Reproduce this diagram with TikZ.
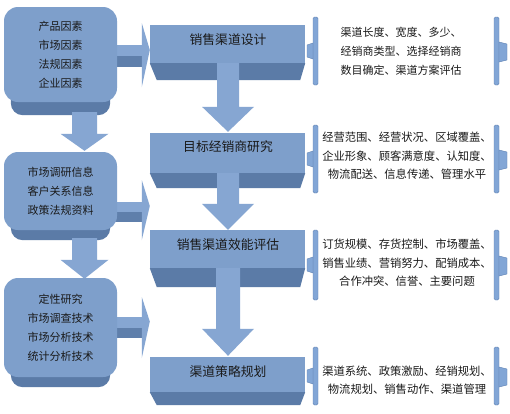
\documentclass[tikz,border=0pt]{standalone}
\usepackage{fontspec}
\newfontfamily\cjk{Noto Sans CJK SC}
\usetikzlibrary{calc}
\pgfdeclarelayer{bg}\pgfdeclarelayer{mid}\pgfsetlayers{bg,mid,main}
\definecolor{face}{HTML}{7E9FCB}
\definecolor{dark}{HTML}{5B7BA7}
\definecolor{arrlight}{HTML}{86A6D2}
\definecolor{arrdark}{HTML}{5F7FAB}
\definecolor{brk}{HTML}{82A6D6}
\definecolor{brkedge}{HTML}{6385B5}
\definecolor{txt}{HTML}{1A1A1A}
% block arrow pointing down: #1 start point, #2 tip point, #3 shaft half width, #4 head half width, #5 head length
\newcommand\blkdown[5]{%
  \fill[arrlight] let \p1=#1, \p2=#2 in
    (\x2-#3pt,\y1) -- (\x2+#3pt,\y1) -- (\x2+#3pt,\y2+#5pt) -- (\x2+#4pt,\y2+#5pt)
    -- (\x2,\y2) -- (\x2-#4pt,\y2+#5pt) -- (\x2-#3pt,\y2+#5pt) -- cycle;}
% block arrow pointing right: #1 from node, #2 to node, #3 shaft top, #4 shaft bottom, #5 head top, #6 head bottom
\newcommand\blkright[6]{%
  \fill[arrlight] let \p1=(#1.east), \p2=(#2.west) in
    (\x1-3pt,-#3pt) rectangle (\x2-8pt,{-(#3+#4)/2*1pt});
  \fill[arrdark] let \p1=(#1.east), \p2=(#2.west) in
    (\x1-3pt,{-(#3+#4)/2*1pt}) rectangle (\x2-8pt,-#4pt);
  \fill[arrlight] let \p2=(#2.west) in
    (\x2-8pt,-#5pt) -- (\x2,{-((#3+#4)/2-6)*1pt}) -- (\x2-8pt,-#6pt) -- cycle;}
% pair of brackets round a text: #1 top, #2 bottom
\newcommand\brkpair[2]{%
  \filldraw[brk,draw=brkedge,line width=0.4pt,rounded corners=1.5pt] (313,#1) rectangle (318,#2);
  \filldraw[brk,draw=brkedge,line width=0.4pt] (313,{(#1+#2)/2-8}) -- (307,{(#1+#2)/2-6})
     -- (307,{(#1+#2)/2+6}) -- (313,{(#1+#2)/2+8}) -- cycle;
  \filldraw[brk,draw=brkedge,line width=0.4pt,rounded corners=1.5pt] (494,#1) rectangle (499,#2);
  \filldraw[brk,draw=brkedge,line width=0.4pt] (499,{(#1+#2)/2-9}) -- (507,{(#1+#2)/2-7})
     -- (507,{(#1+#2)/2+9}) -- (499,{(#1+#2)/2+11}) -- cycle;}
\begin{document}
\begin{tikzpicture}[x=1pt,y=-1pt,
  lface/.style={fill=face, rounded corners=14pt, minimum width=113pt, inner sep=0pt,
    align=center, text=txt, font=\cjk\fontsize{11pt}{19pt}\selectfont},
  mface/.style={fill=face, minimum width=155pt, inner sep=0pt},
  mtext/.style={text=txt, inner sep=0pt, font=\cjk\fontsize{12.8pt}{15pt}\selectfont},
  rtext/.style={text=txt, inner sep=0pt, align=center, font=\cjk\fontsize{11.3pt}{18.5pt}\selectfont},
  rtextsmall/.style={text=txt, inner sep=0pt, align=left, font=\cjk\fontsize{11pt}{19pt}\selectfont}]
\begin{pgfonlayer}{bg}
\fill[white] (0,0) rectangle (510,413);
\end{pgfonlayer}
\useasboundingbox (0,0) rectangle (510,413);

% left boxes
\node[lface, minimum height=95pt] (L1) at (60.5,54.5) {产品因素\\市场因素\\法规因素\\企业因素};
\node[lface, minimum height=78pt] (L2) at (60.5,191) {市场调研信息\\客户关系信息\\政策法规资料};
\node[lface, minimum height=99pt] (L3) at (60.5,327.5) {定性研究\\市场调查技术\\市场分析技术\\统计分析技术};

% middle boxes
\node[mface, minimum height=38pt] (M1) at (227.5,44) {};
\node[mface, minimum height=40pt] (M2) at (227.5,153) {};
\node[mface, minimum height=38pt] (M3) at (227.5,249) {};
\node[mface, minimum height=35pt] (M4) at (227.5,374.5) {};
\node[mtext] (M1t) at (228,40) {销售渠道设计};
\node[mtext] (M2t) at (228,147) {目标经销商研究};
\node[mtext] (M3t) at (228,245) {销售渠道效能评估};
\node[mtext] (M4t) at (228,372) {渠道策略规划};

% right texts
\node[rtextsmall] (R1) at (401,51) {渠道长度、宽度、多少、\\经销商类型、选择经销商\\数目确定、渠道方案评估};
\node[rtext] (R2) at (407,156) {经营范围、经营状况、区域覆盖、\\企业形象、顾客满意度、认知度、\\物流配送、信息传递、管理水平};
\node[rtext] (R3) at (407,263) {订货规模、存货控制、市场覆盖、\\销售业绩、营销努力、配销成本、\\合作冲突、信誉、主要问题};
\node[rtext] (R4) at (407,380) {渠道系统、政策激励、经销规划、\\物流规划、销售动作、渠道管理};

\begin{pgfonlayer}{bg}
  % extrusions of the left boxes
  \fill[dark, rounded corners=12pt] ($(L1.south west)+(7,-80)$) rectangle ($(L1.south east)+(-7,13)$);
  \fill[dark, rounded corners=12pt] ($(L2.south west)+(7,-60)$) rectangle ($(L2.south east)+(-7,10)$);
  \fill[dark, rounded corners=12pt] ($(L3.south west)+(7,-80)$) rectangle ($(L3.south east)+(-7,10)$);
  % lower faces of the middle boxes
  \fill[dark] (M1.south west) -- (M1.south east) -- ++(-5,17) -- ($(M1.south west)+(7,17)$) -- cycle;
  \fill[dark] (M2.south west) -- (M2.south east) -- ++(-5,15) -- ($(M2.south west)+(7,15)$) -- cycle;
  \fill[dark] (M3.south west) -- (M3.south east) -- ++(-5,19) -- ($(M3.south west)+(7,19)$) -- cycle;
  \fill[dark] (M4.south west) -- (M4.south east) -- ++(-5,13) -- ($(M4.south west)+(7,13)$) -- cycle;
\end{pgfonlayer}

\begin{pgfonlayer}{mid}
  % left column arrows
  \blkdown{($(L1.south)+(24,10)$)}{($(L2.north)+(24,-1)$)}{12.5}{24}{17}
  \blkdown{($(L2.south)+(24,8)$)}{($(L3.north)+(24,1)$)}{12.5}{24}{19}
  % middle column arrows
  \blkdown{(M1.south)}{($(M2.north)+(0.5,-1)$)}{11}{26}{25}
  \blkdown{(M2.south)}{($(M3.north)+(0.5,0)$)}{11}{26}{26}
  \blkdown{(M3.south)}{($(M4.north)+(0.5,-1)$)}{12}{26}{27}
  % arrows to the right
  \blkright{L1}{M1}{45}{67}{23}{87}
  \blkright{L2}{M2}{202}{222}{180}{240}
  \blkright{L3}{M4}{317}{338}{297}{358}
\end{pgfonlayer}

% brackets
\brkpair{17}{85}
\brkpair{125}{193}
\brkpair{230}{300}
\brkpair{347}{405}
\end{tikzpicture}
\end{document}
